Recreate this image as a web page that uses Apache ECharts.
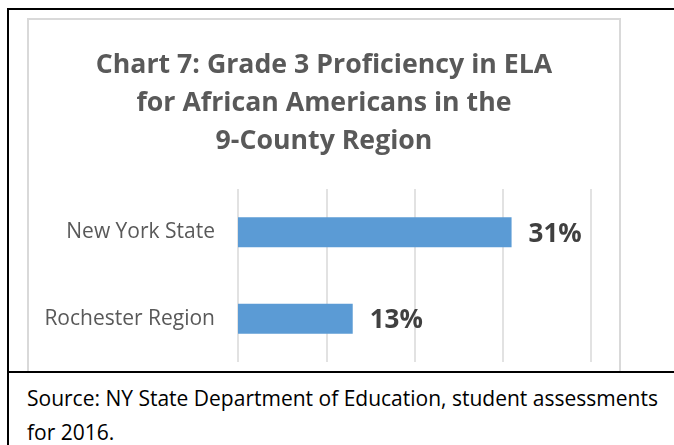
<!DOCTYPE html>
<html>
<head>
<meta charset="utf-8">
<script src="https://cdn.jsdelivr.net/npm/echarts@6/dist/echarts.min.js"></script>
<style>
  html, body { margin: 0; padding: 0; background: #fff; height: 445px; overflow: hidden; }
  .line { position: absolute; background: #000; }
  .line--top { left: 7px; top: 8px; width: 667px; height: 2px; }
  .line--left { left: 7px; top: 8px; width: 2px; height: 437px; }
  .line--source { left: 7px; top: 371px; width: 667px; height: 2px; }
  .chart-box { position: absolute; left: 27px; top: 18px; width: 594px; height: 353px; border: 2px solid #d9d9d9; border-bottom: none; box-sizing: border-box; }
  #chart { position: absolute; left: 27px; top: 18px; width: 594px; height: 353px; }
  .source { position: absolute; left: 27px; top: 381px; margin: 0; width: 645px; font-family: "Open Sans", sans-serif; font-size: 21px; line-height: 34px; color: #000; }
</style>
</head>
<body>
<div class="line line--top"></div>
<div class="line line--left"></div>
<div class="chart-box"></div>
<div id="chart"></div>
<div class="line line--source"></div>
<p class="source">Source: NY State Department of Education, student assessments for 2016.</p>
<script>
const titleText = 'Chart 7: Grade 3 Proficiency in ELA\nfor African Americans in the\n9-County Region'
const categories = ['New York State', 'Rochester Region']
const proficiency = [31, 13]
const axisMax = 40
const axisStep = 10

const chart = echarts.init(document.getElementById('chart'))
chart.setOption({
  animation: false,
  title: {
    text: titleText,
    left: 'center',
    top: 23,
    textStyle: {
      color: '#595959',
      fontFamily: 'Open Sans',
      fontSize: 26.7,
      fontWeight: 'bold',
      lineHeight: 38,
      align: 'center'
    }
  },
  grid: { left: 211, right: 30, top: 171, bottom: 9, containLabel: false },
  xAxis: {
    type: 'value',
    min: 0,
    max: axisMax,
    interval: axisStep,
    axisLabel: { show: false },
    axisLine: { show: false },
    axisTick: { show: false },
    splitLine: { lineStyle: { color: '#d9d9d9', width: 1.5 } }
  },
  yAxis: {
    type: 'category',
    data: categories,
    inverse: true,
    axisLine: { show: false },
    axisTick: { show: false },
    axisLabel: {
      color: '#595959',
      fontFamily: 'Open Sans',
      fontSize: 21,
      margin: 23
    }
  },
  series: [
    {
      type: 'bar',
      data: proficiency,
      barWidth: 30,
      itemStyle: { color: '#5b9bd5' },
      label: {
        show: true,
        position: 'right',
        distance: 17,
        offset: [0, 2],
        formatter: '{c}%',
        color: '#404040',
        fontFamily: 'Open Sans',
        fontSize: 26,
        fontWeight: 'bold'
      }
    }
  ]
})
</script>
</body>
</html>
